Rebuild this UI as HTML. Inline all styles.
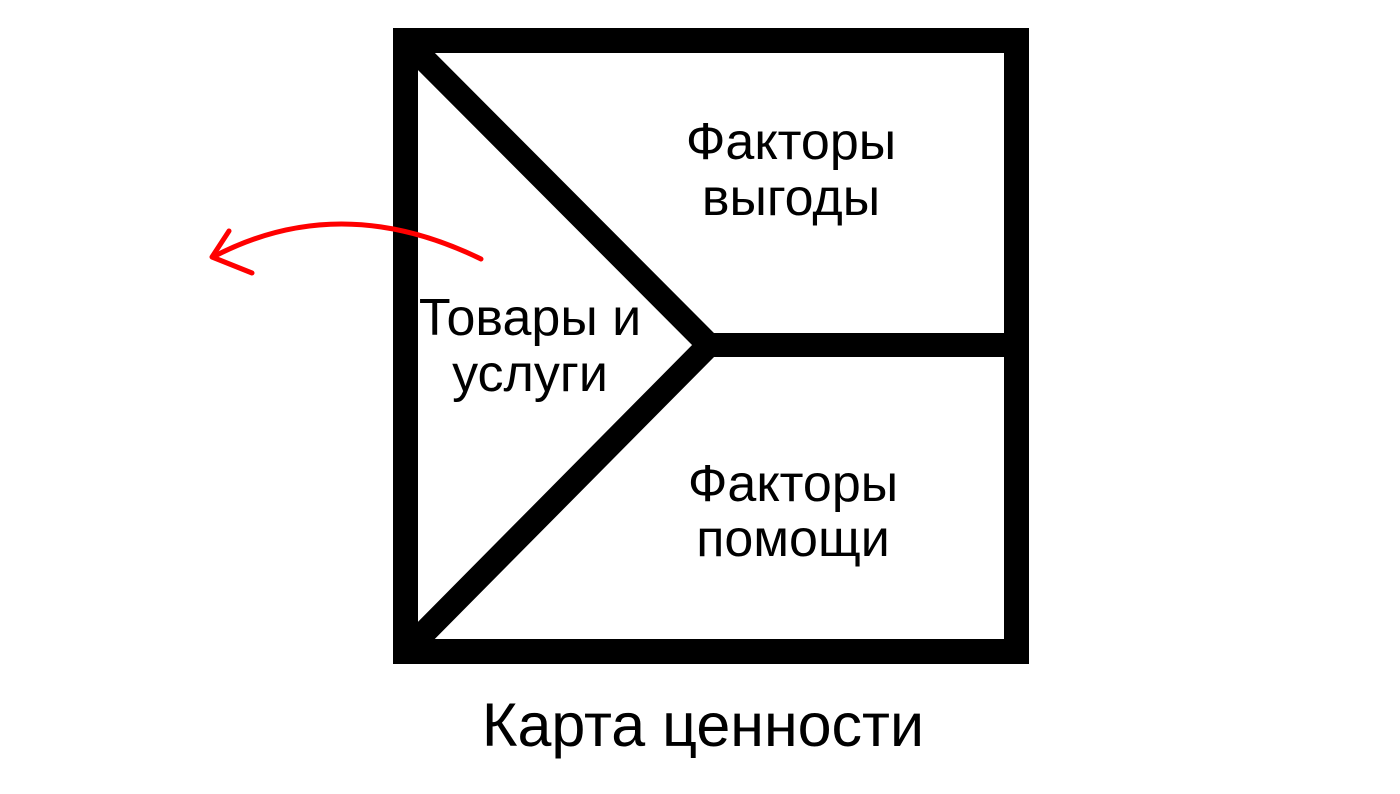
<!DOCTYPE html>
<html><head><meta charset="utf-8"><style>
html,body{margin:0;padding:0;background:#fff;width:1400px;height:794px;overflow:hidden}
svg{display:block}
text{font-family:"Liberation Sans","DejaVu Sans",sans-serif;fill:#000}
</style></head><body>
<svg width="1400" height="794" viewBox="0 0 1400 794">
<rect x="405.5" y="40.5" width="611" height="611" fill="none" stroke="#000" stroke-width="25"/>
<polyline points="406,41 709,345 406,651" fill="none" stroke="#000" stroke-width="24" stroke-linejoin="miter"/>
<line x1="700" y1="345" x2="1010" y2="345" stroke="#000" stroke-width="24"/>
<g font-size="52" text-anchor="middle">
<text x="791" y="159">Факторы</text>
<text x="791" y="215">выгоды</text>
<text x="530" y="335">Товары и</text>
<text x="530" y="391">услуги</text>
<text x="793" y="501">Факторы</text>
<text x="793" y="556">помощи</text>
</g>
<text x="703" y="746" font-size="61" text-anchor="middle">Карта ценности</text>
<g fill="none" stroke="#f00" stroke-width="5" stroke-linecap="round" stroke-linejoin="round">
<path d="M481,259 Q340,190 213,257"/>
<path d="M229,231 L212,257 L252,273"/>
</g>
</svg>
</body></html>
